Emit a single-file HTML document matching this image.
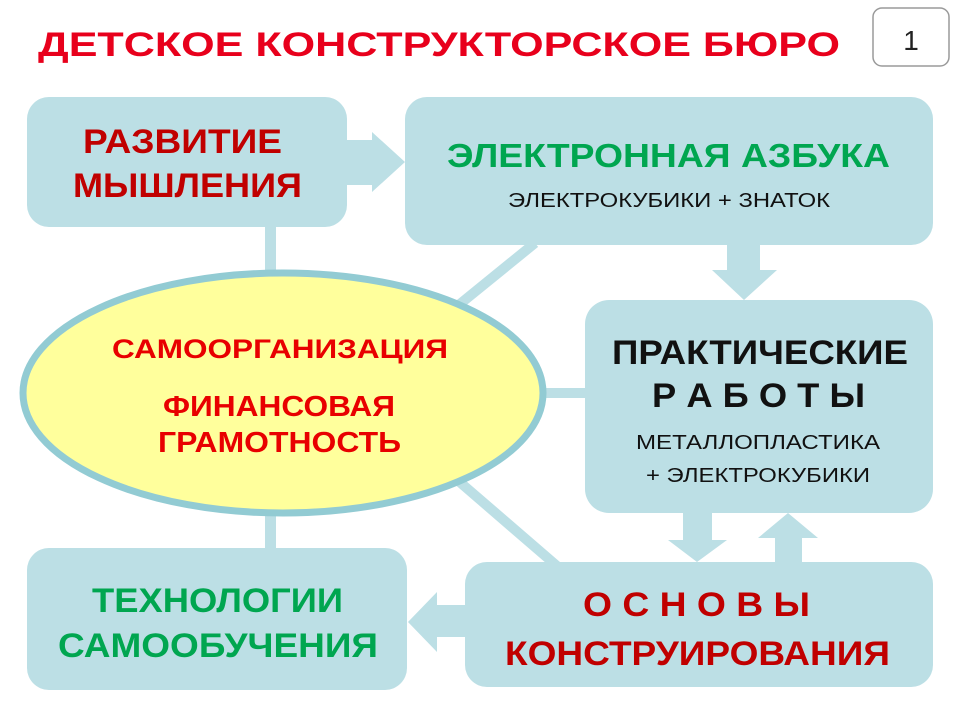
<!DOCTYPE html>
<html><head><meta charset="utf-8"><style>
html,body{margin:0;padding:0;background:#fff;}
svg{display:block;}
text{font-family:"Liberation Sans",sans-serif;font-weight:bold;}
.n{font-weight:normal;}
</style></head><body>
<svg width="960" height="720" viewBox="0 0 960 720" xmlns="http://www.w3.org/2000/svg">
<g fill="#bcdfe5" stroke="none">
<rect x="265" y="225" width="11" height="60"/>
<rect x="265" y="505" width="11" height="46"/>
<line x1="455" y1="308" x2="535" y2="243" stroke="#bcdfe5" stroke-width="10"/>
<rect x="540" y="388" width="50" height="10"/>
<line x1="455" y1="478" x2="557" y2="566" stroke="#bcdfe5" stroke-width="10"/>
<rect x="27" y="97" width="320" height="130" rx="22"/>
<rect x="405" y="97" width="528" height="148" rx="22"/>
<rect x="585" y="300" width="348" height="213" rx="24"/>
<rect x="27" y="548" width="380" height="142" rx="22"/>
<rect x="465" y="562" width="468" height="125" rx="22"/>
<polygon points="347,140 372,140 372,132 405,162 372,192 372,185 347,185"/>
<polygon points="727,245 760,245 760,270 777,270 744,300 712,270 727,270"/>
<polygon points="683,513 712,513 712,540 727,540 697,562 668,540 683,540"/>
<polygon points="775,562 802,562 802,538 818,538 788,513 758,538 775,538"/>
<polygon points="465,605 437,605 437,592 408,622 437,652 437,637 465,637"/>
</g>
<ellipse cx="283" cy="393" rx="260" ry="120" fill="#ffff9c" stroke="#92cbd3" stroke-width="7"/>
<text x="38" y="56" font-size="34" fill="#e8001c" textLength="802" lengthAdjust="spacingAndGlyphs">ДЕТСКОЕ  КОНСТРУКТОРСКОЕ  БЮРО</text>
<rect x="873" y="8" width="76" height="58" rx="9" fill="#fff" stroke="#9a9a9a" stroke-width="1.5"/>
<text x="911" y="50" font-size="28" fill="#222" text-anchor="middle" class="n">1</text>
<text x="83" y="153" font-size="34" fill="#c00000" textLength="199" lengthAdjust="spacingAndGlyphs">РАЗВИТИЕ</text>
<text x="73" y="197" font-size="34" fill="#c00000" textLength="229" lengthAdjust="spacingAndGlyphs">МЫШЛЕНИЯ</text>
<text x="447" y="167" font-size="33" fill="#00a650" textLength="443" lengthAdjust="spacingAndGlyphs">ЭЛЕКТРОННАЯ  АЗБУКА</text>
<text x="508" y="207" font-size="20" fill="#111" class="n" textLength="322" lengthAdjust="spacingAndGlyphs">ЭЛЕКТРОКУБИКИ + ЗНАТОК</text>
<text x="612" y="364" font-size="34" fill="#111" textLength="296" lengthAdjust="spacingAndGlyphs">ПРАКТИЧЕСКИЕ</text>
<text x="652" y="407" font-size="34" fill="#111" textLength="213" lengthAdjust="spacingAndGlyphs">Р А Б О Т Ы</text>
<text x="636" y="449" font-size="20" fill="#111" class="n" textLength="244" lengthAdjust="spacingAndGlyphs">МЕТАЛЛОПЛАСТИКА</text>
<text x="646" y="482" font-size="20" fill="#111" class="n" textLength="224" lengthAdjust="spacingAndGlyphs">+ ЭЛЕКТРОКУБИКИ</text>
<text x="112" y="358" font-size="27" fill="#e80000" textLength="336" lengthAdjust="spacingAndGlyphs">САМООРГАНИЗАЦИЯ</text>
<text x="163" y="416" font-size="29" fill="#e80000" textLength="232" lengthAdjust="spacingAndGlyphs">ФИНАНСОВАЯ</text>
<text x="158" y="452" font-size="29" fill="#e80000" textLength="243" lengthAdjust="spacingAndGlyphs">ГРАМОТНОСТЬ</text>
<text x="92" y="612" font-size="34" fill="#00a650" textLength="251" lengthAdjust="spacingAndGlyphs">ТЕХНОЛОГИИ</text>
<text x="58" y="657" font-size="34" fill="#00a650" textLength="320" lengthAdjust="spacingAndGlyphs">САМООБУЧЕНИЯ</text>
<text x="583" y="616" font-size="34" fill="#c00000" textLength="227" lengthAdjust="spacingAndGlyphs">О С Н О В Ы</text>
<text x="505" y="665" font-size="34" fill="#c00000" textLength="385" lengthAdjust="spacingAndGlyphs">КОНСТРУИРОВАНИЯ</text>
</svg>
</body></html>
